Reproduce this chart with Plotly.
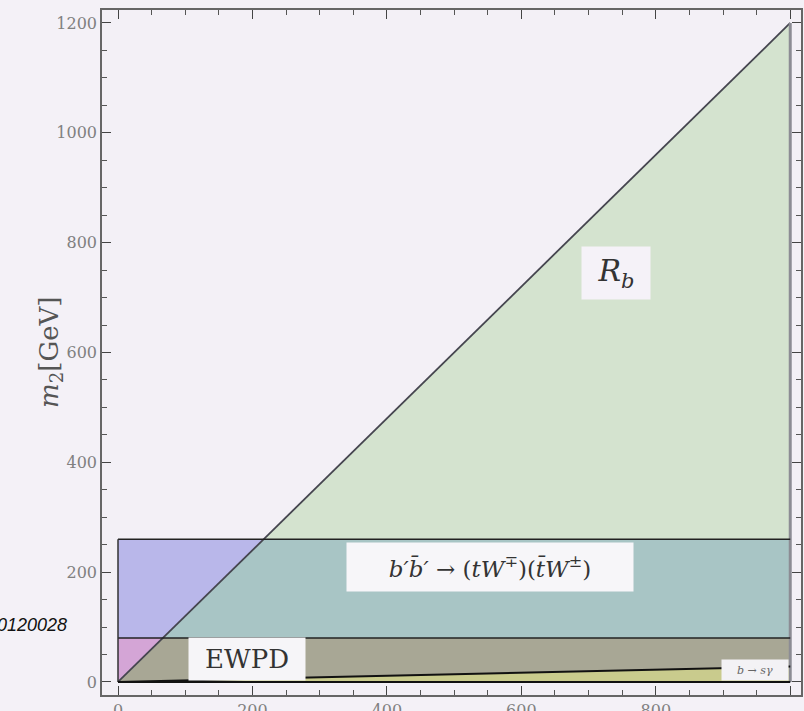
import plotly.graph_objects as go

# ---- data (GeV) ----
m1_max = 1000          # right edge of the m1 range
rb_slope = 1.2         # R_b boundary: m2 = 1.2 * m1
rb_top = 1200          # m2 at m1 = 1000 on the R_b line
band_top = 260         # b'b' -> (tW)(tW) excluded band upper edge
ewpd_top = 80          # EWPD limit
bsg_end = 28           # b -> s gamma boundary at m1 = 1000

x_ticks = [0, 200, 400, 600, 800, 1000]
y_ticks = [0, 200, 400, 600, 800, 1000, 1200]

serif = "DejaVu Serif"
fig = go.Figure()

def poly(xs, ys, color):
    fig.add_trace(go.Scatter(x=xs + [xs[0]], y=ys + [ys[0]], mode="lines",
                             fill="toself", fillcolor=color,
                             line=dict(width=0, color=color),
                             hoverinfo="skip", showlegend=False))

def seg(xs, ys, color, width):
    fig.add_trace(go.Scatter(x=xs, y=ys, mode="lines",
                             line=dict(color=color, width=width),
                             hoverinfo="skip", showlegend=False))

x_band = band_top / rb_slope
x_ewpd = ewpd_top / rb_slope

# blue band, pink EWPD
poly([0, m1_max, m1_max, 0], [ewpd_top, ewpd_top, band_top, band_top], "#b9b7ea")
poly([0, m1_max, m1_max, 0], [0, 0, ewpd_top, ewpd_top], "#d4a5d6")
# R_b triangle
poly([0, m1_max, m1_max], [0, rb_top, 0], "#d4e3cf")
# overlaps
poly([x_ewpd, x_band, m1_max, m1_max], [ewpd_top, band_top, band_top, ewpd_top], "#a8c5c5")
poly([0, x_ewpd, m1_max, m1_max], [0, ewpd_top, ewpd_top, 0], "#a8a795")
# b -> s gamma
poly([0, m1_max, m1_max], [0, bsg_end, 0], "#c9cb8d")

# boundary lines
seg([0, m1_max], [0, rb_top], "#45454f", 1.8)
seg([m1_max, m1_max], [0, rb_top], "#8c8c94", 3)
seg([0, m1_max], [band_top, band_top], "#222", 1.5)
seg([0, m1_max], [ewpd_top, ewpd_top], "#222", 1.5)
seg([0, 0], [0, band_top], "#333", 1.5)
seg([0, m1_max], [0, bsg_end], "#111", 2)
seg([0, m1_max], [0, 0], "#111", 2)

# labels
fig.add_annotation(x=741, y=745, text="<i>R<sub>b</sub></i>", showarrow=False,
                   font=dict(family=serif, size=30, color="#333"),
                   bgcolor="#f5f2f8", width=66, height=50)
fig.add_annotation(x=553, y=209,
                   text="<i>b′b̄′</i> → (<i>tW</i><sup>∓</sup>)(<i>t̄W</i><sup>±</sup>)",
                   showarrow=False, font=dict(family=serif, size=23, color="#333"),
                   bgcolor="#f7f6f9", width=284, height=46)
fig.add_annotation(x=192, y=42, text="EWPD", showarrow=False,
                   font=dict(family=serif, size=26, color="#333"),
                   bgcolor="#f6f5f8", width=114, height=40)
fig.add_annotation(x=948, y=22, text="<i>b</i> → <i>sγ</i>", showarrow=False,
                   font=dict(family=serif, size=11, color="#666"),
                   bgcolor="#f3f2f5", width=64, height=18)

# axis title & side text
fig.add_annotation(xref="paper", yref="paper", x=(32 - 102) / 699, y=0.5,
                   text="<i>m</i><sub>2</sub>[GeV]", textangle=-90, showarrow=False,
                   font=dict(family=serif, size=26, color="#555"))
fig.add_annotation(xref="paper", yref="paper", x=(69 - 102) / 699, y=(695 - 637) / 685,
                   xanchor="right", text="<i>0120028</i>", showarrow=False,
                   font=dict(family="Liberation Sans", size=18, color="#111"))

axis_common = dict(showline=True, linecolor="#666", linewidth=1.5, mirror="allticks",
                   ticks="inside", ticklen=9, tickwidth=1.3, tickcolor="#444",
                   showgrid=False, zeroline=False, automargin=False,
                   tickfont=dict(family=serif, size=16, color="#808080"),
                   minor=dict(dtick=50, ticks="inside", ticklen=5, tickcolor="#555",
                              showgrid=False))

fig.update_xaxes(range=[-23.8, 1016], tickvals=x_ticks,
                 ticktext=[str(v) for v in x_ticks], **axis_common)
fig.update_yaxes(range=[-23.7, 1223.6], tickvals=y_ticks,
                 ticktext=[str(v) for v in y_ticks], **axis_common)

fig.update_layout(width=804, height=711, template="none",
                  margin=dict(l=102, r=3, t=10, b=16),
                  paper_bgcolor="#f4f1f7", plot_bgcolor="#f3f0f6",
                  showlegend=False)

fig.write_html("out.html", config={"displayModeBar": False},
               post_script="document.body.style.margin='0px';"
                           "document.body.style.overflow='hidden';"
                           "document.body.style.background='#f4f1f7';")
